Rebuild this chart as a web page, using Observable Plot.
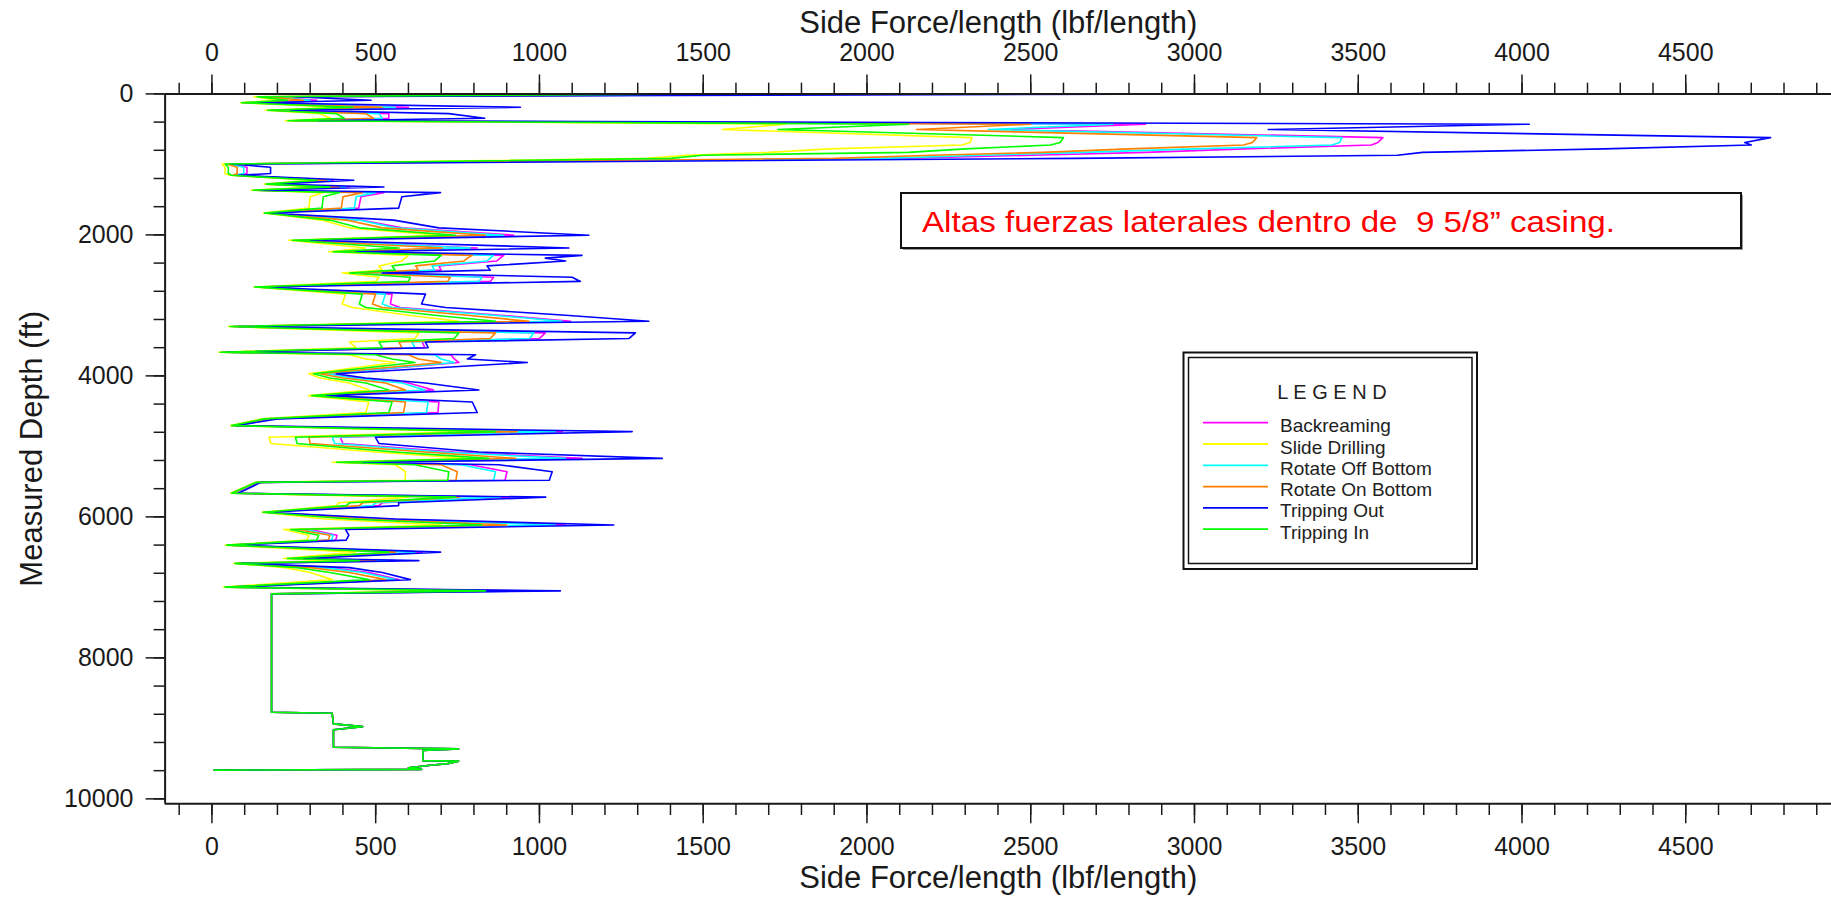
<!DOCTYPE html>
<html><head><meta charset="utf-8">
<script src="https://cdn.jsdelivr.net/npm/d3@7"></script>
<script src="https://cdn.jsdelivr.net/npm/@observablehq/plot@0.6"></script>
<style>
html,body{margin:0;padding:0;background:#fff;}
#chart{position:relative;width:1831px;height:897px;overflow:hidden;}
</style></head><body><div id="chart"></div>
<script>
const seriesNames = ["Backreaming", "Slide Drilling", "Rotate Off Bottom", "Rotate On Bottom", "Tripping Out", "Tripping In"];
const seriesColors = ["#ff00ff", "#ffff00", "#00ffff", "#ff8000", "#0000ff", "#00ff00"];

const depthFt = [0, 40, 90, 125, 190, 232, 280, 345, 380, 430, 505, 620, 690, 725, 780, 830, 870, 915, 995, 1040, 1130, 1155, 1225, 1280, 1320, 1366, 1400, 1460, 1620, 1690, 1790, 1900, 2004, 2075, 2185, 2240, 2290, 2330, 2370, 2440, 2500, 2540, 2600, 2660, 2740, 2840, 2980, 3030, 3140, 3225, 3300, 3390, 3470, 3520, 3600, 3665, 3700, 3760, 3810, 3970, 4030, 4100, 4200, 4280, 4370, 4520, 4610, 4705, 4790, 4870, 4960, 5080, 5170, 5225, 5260, 5360, 5480, 5510, 5665, 5720, 5800, 5840, 5935, 6030, 6115, 6180, 6260, 6330, 6400, 6500, 6590, 6620, 6660, 6720, 6790, 6890, 6997, 7050];

const slideDrilling = [1350, 128, 200, 87, 380, 163, 330, 363, 224, 1750, 1559, 2320, 2315, 2290, 1885, 1700, 1450, 1330, 31, 40, 40, 55, 300, 160, 330, 120, 340, 300, 296, 158, 336, 420, 700, 235, 469, 357, 600, 590, 580, 510, 520, 398, 510, 500, 128, 408, 398, 430, 600, 754, 51, 632, 620, 420, 440, 21, 420, 470, 560, 296, 330, 420, 480, 296, 479, 470, 153, 57, 800, 174, 180, 500, 780, 367, 560, 591, 590, 133, 57, 600, 387, 380, 153, 347, 700, 219, 296, 290, 41, 438, 219, 380, 67, 224, 300, 367, 36, 760];
const trippingIn = [1500, 138, 230, 90, 430, 170, 380, 404, 232, 2127, 1728, 2600, 2590, 2560, 2300, 2127, 1499, 1400, 40, 50, 50, 60, 320, 165, 360, 125, 390, 340, 336, 160, 360, 450, 744, 245, 571, 370, 700, 690, 680, 550, 560, 420, 606, 600, 130, 459, 450, 470, 680, 866, 55, 754, 740, 510, 520, 25, 500, 550, 620, 310, 360, 470, 540, 305, 550, 540, 160, 60, 866, 255, 260, 560, 845, 380, 620, 723, 720, 135, 60, 744, 420, 410, 156, 420, 825, 240, 326, 320, 45, 540, 230, 450, 70, 260, 360, 480, 40, 835];
const rotateOnBottom = [2030, 160, 280, 95, 520, 180, 470, 493, 245, 2500, 2151, 3190, 3177, 3150, 2800, 2537, 2200, 1900, 45, 77, 77, 65, 350, 170, 390, 130, 460, 400, 395, 163, 410, 520, 835, 260, 703, 390, 795, 780, 770, 622, 630, 450, 728, 720, 135, 500, 490, 520, 780, 968, 60, 866, 850, 571, 580, 30, 600, 630, 700, 330, 400, 530, 591, 315, 591, 585, 170, 63, 932, 296, 300, 650, 927, 400, 700, 749, 745, 138, 63, 754, 460, 450, 160, 480, 900, 260, 360, 355, 50, 560, 245, 500, 75, 300, 420, 530, 45, 900];
const rotateOffBottom = [2223, 170, 300, 100, 560, 188, 510, 520, 255, 2750, 2370, 3450, 3443, 3420, 3000, 2658, 2350, 2050, 50, 97, 97, 70, 362, 175, 410, 135, 500, 440, 435, 165, 450, 560, 891, 270, 790, 400, 860, 850, 840, 672, 680, 470, 825, 815, 138, 530, 520, 550, 860, 1070, 65, 983, 970, 610, 620, 35, 680, 700, 740, 350, 430, 580, 650, 325, 660, 655, 180, 66, 1049, 367, 375, 700, 1080, 420, 760, 866, 860, 140, 66, 880, 500, 490, 163, 510, 1049, 280, 370, 365, 55, 620, 255, 540, 78, 340, 460, 560, 50, 960];
const backreaming = [2284, 180, 320, 105, 600, 195, 540, 540, 262, 2850, 2440, 3575, 3560, 3540, 3150, 2851, 2500, 2100, 55, 107, 107, 72, 370, 178, 420, 138, 525, 455, 448, 168, 455, 580, 922, 275, 810, 410, 891, 880, 870, 693, 700, 480, 860, 850, 140, 550, 545, 575, 880, 1095, 68, 1018, 1000, 642, 650, 38, 730, 740, 754, 360, 445, 600, 677, 330, 693, 690, 185, 68, 1070, 392, 400, 740, 1130, 430, 790, 901, 895, 142, 68, 907, 520, 510, 165, 530, 1080, 300, 382, 378, 58, 642, 262, 560, 80, 360, 480, 570, 52, 988];
const trippingOut = [3105, 250, 486, 140, 942, 240, 723, 833, 320, 4022, 3225, 4759, 4680, 4700, 4250, 3696, 3620, 2634, 60, 179, 179, 80, 433, 190, 525, 150, 698, 580, 570, 175, 555, 693, 1151, 300, 1090, 440, 1130, 1018, 1080, 840, 850, 520, 1100, 1125, 150, 652, 640, 713, 1080, 1334, 80, 1293, 1273, 652, 660, 45, 805, 780, 963, 380, 469, 652, 815, 350, 795, 810, 200, 75, 1283, 499, 510, 815, 1375, 460, 876, 1039, 1030, 150, 80, 1019, 570, 570, 170, 560, 1227, 408, 418, 410, 70, 698, 280, 632, 90, 420, 520, 606, 60, 1064];

// below ~7100 ft all six load cases coincide
const tailDepthFt = [7092, 8771, 8785, 8936, 8975, 9020, 9268, 9291, 9315, 9457, 9465, 9500, 9527, 9560, 9582, 9592];
const tailForce = [182, 182, 367, 371, 460, 371, 371, 753, 644, 644, 753, 720, 660, 600, 640, 7];

const xMinorTicks = d3.range(-100, 4901, 100);
const xMajorTicks = [0, 500, 1000, 1500, 2000, 2500, 3000, 3500, 4000, 4500];
const yMinorTicks = d3.range(0, 10001, 400);
const yMajorTicks = [0, 2000, 4000, 6000, 8000, 10000];

const xTitle = "Side Force/length (lbf/length)";
const yTitle = "Measured Depth (ft)";
const noteText = "Altas fuerzas laterales dentro de  9 5/8\u201d casing.";
const legendTitle = "L E G E N D";

const seriesValues = [backreaming, slideDrilling, rotateOffBottom, rotateOnBottom, trippingOut, trippingIn];
const rows = [];
seriesNames.forEach((name, s) => {
  depthFt.forEach((d, i) => rows.push({series: name, depth: d, force: seriesValues[s][i]}));
  tailDepthFt.forEach((d, i) => rows.push({series: name, depth: d, force: tailForce[i]}));
});

const font = "'Liberation Sans', Arial, Helvetica, sans-serif";
const fmt = d3.format("d");
const axisCol = "#1a1a1a";

const chart = Plot.plot({
  width: 1831, height: 897,
  marginTop: 93.4, marginBottom: 93.7, marginLeft: 164.6, marginRight: 0,
  style: {fontFamily: font, color: axisCol, background: "#fff"},
  x: {domain: [-143, 4945]},
  y: {domain: [0, 10070], reverse: true},
  color: {domain: seriesNames, range: seriesColors},
  marks: [
    Plot.line(rows, {x: "force", y: "depth", z: "series", stroke: "series", strokeWidth: 1.6}),
    Plot.ruleY([0], {stroke: axisCol, strokeWidth: 2}),
    Plot.ruleY([10070], {stroke: axisCol, strokeWidth: 2}),
    Plot.ruleX([-143], {stroke: axisCol, strokeWidth: 2}),
    Plot.axisX({anchor: "top", ticks: xMinorTicks, tickSize: 11.7, tickFormat: () => "", label: null, strokeWidth: 1.5}),
    Plot.axisX({anchor: "top", ticks: xMajorTicks, tickSize: 20, tickPadding: 13.3, tickFormat: fmt, fontSize: 25, label: null, strokeWidth: 1.5}),
    Plot.axisX({anchor: "bottom", ticks: xMinorTicks, tickSize: 11.7, tickFormat: () => "", label: null, strokeWidth: 1.5}),
    Plot.axisX({anchor: "bottom", ticks: xMajorTicks, tickSize: 20, tickPadding: 13.4, tickFormat: fmt, fontSize: 25, label: null, strokeWidth: 1.5}),
    Plot.axisY({anchor: "left", ticks: yMinorTicks, tickSize: 11, tickFormat: () => "", label: null, strokeWidth: 1.5}),
    Plot.axisY({anchor: "left", ticks: yMajorTicks, tickSize: 19, tickPadding: 12.6, tickFormat: fmt, fontSize: 25, label: null, strokeWidth: 1.5}),
    Plot.text([xTitle], {text: d => d, frameAnchor: "top", lineAnchor: "bottom", dy: -61, fontSize: 31, fill: axisCol}),
    Plot.text([xTitle], {text: d => d, frameAnchor: "bottom", lineAnchor: "top", dy: 61.7, fontSize: 31, fill: axisCol}),
    Plot.text([yTitle], {text: d => d, frameAnchor: "left", textAnchor: "middle", lineAnchor: "bottom", rotate: -90, dx: -123.6, fontSize: 31, fill: axisCol})
  ]
});
document.getElementById("chart").appendChild(chart);

const svg = d3.select(chart);
// annotation box
const note = svg.append("g").attr("text-anchor", "start");
note.append("rect").attr("x", 903).attr("y", 195).attr("width", 840).attr("height", 55).attr("fill", "#9a9a9a");
note.append("rect").attr("x", 901).attr("y", 193).attr("width", 840).attr("height", 55).attr("fill", "#fff").attr("stroke", "#111").attr("stroke-width", 2);
note.append("text").attr("x", 922).attr("y", 231.7).attr("text-anchor", "start").attr("fill", "#ff0000").attr("font-family", font).attr("font-size", 30)
  .attr("textLength", 693).attr("lengthAdjust", "spacingAndGlyphs").attr("xml:space", "preserve").style("white-space", "pre").text(noteText);

// legend
const lg = svg.append("g").attr("font-family", font).attr("text-anchor", "start");
lg.append("rect").attr("x", 1183.5).attr("y", 352.5).attr("width", 293.5).attr("height", 216.5).attr("fill", "#fff").attr("stroke", "#111").attr("stroke-width", 2);
lg.append("rect").attr("x", 1188.5).attr("y", 357.5).attr("width", 283.5).attr("height", 206).attr("fill", "none").attr("stroke", "#111").attr("stroke-width", 1.5);
lg.append("text").attr("x", 1332).attr("y", 399).attr("text-anchor", "middle").attr("font-size", 20).attr("fill", "#222").attr("xml:space", "preserve").style("white-space", "pre").text(legendTitle);
seriesNames.forEach((name, i) => {
  const y = 422.7 + i * 21.3;
  lg.append("line").attr("x1", 1203).attr("x2", 1268).attr("y1", y).attr("y2", y).attr("stroke", seriesColors[i]).attr("stroke-width", 1.8);
  lg.append("text").attr("x", 1280).attr("y", y + 9.5).attr("text-anchor", "start").attr("font-size", 19).attr("fill", "#222").text(name);
});
</script></body></html>
